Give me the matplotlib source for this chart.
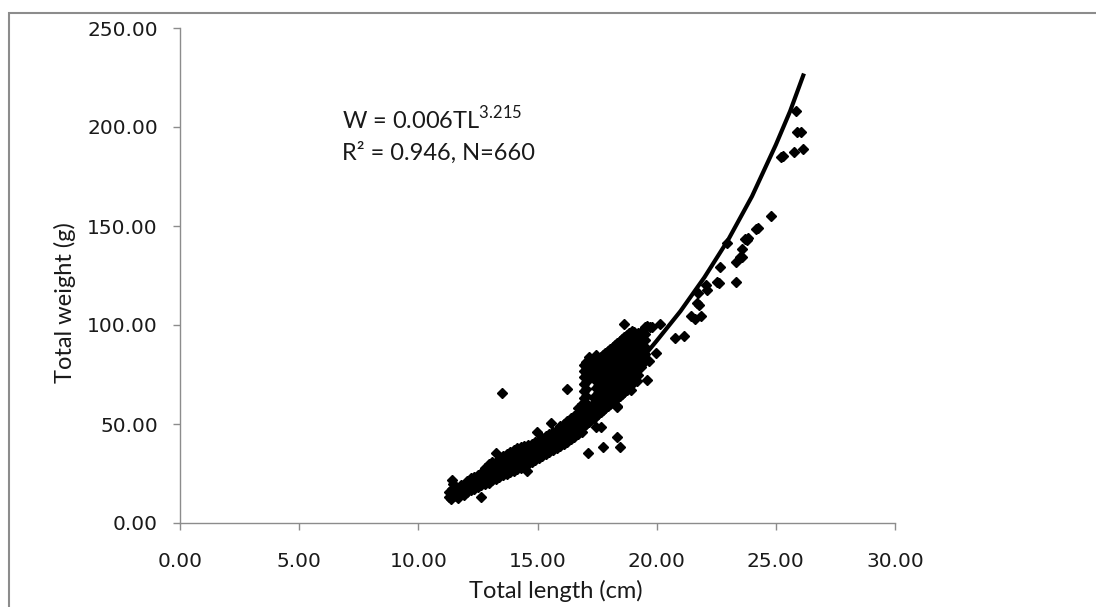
import matplotlib
matplotlib.use("Agg")
import matplotlib.pyplot as plt
from matplotlib.patches import Rectangle
from matplotlib.ticker import FormatStrFormatter, MultipleLocator

# length-weight data (TL in cm, W in g)
band_points = [
    (11.30, 13.0), (11.30, 15.5), (11.35, 12.0), (11.40, 14.5), (11.40, 17.0), (11.45, 19.5),
    (11.50, 13.5), (11.50, 16.0), (11.55, 18.5), (11.60, 14.8), (11.65, 12.8), (11.70, 17.2),
    (11.75, 15.5), (11.80, 19.0), (11.85, 16.5), (11.90, 14.2), (11.95, 18.0), (12.00, 20.0),
    (12.05, 15.5), (12.05, 18.0), (12.05, 21.0),
    (12.20, 16.5), (12.20, 19.5), (12.20, 22.5),
    (12.35, 17.0), (12.35, 20.0), (12.35, 23.0),
    (12.50, 18.0), (12.50, 21.0), (12.50, 24.0),
    (12.65, 19.0), (12.65, 22.0), (12.65, 25.5),
    (12.80, 19.5), (12.80, 23.0), (12.80, 26.0), (12.80, 28.0),
    (12.95, 20.0), (12.95, 23.5), (12.95, 27.0), (12.95, 30.0),
    (13.10, 21.5), (13.10, 24.5), (13.10, 28.0), (13.10, 31.0),
    (13.25, 22.0), (13.25, 25.5), (13.25, 29.0),
    (13.40, 23.0), (13.40, 26.5), (13.40, 30.0), (13.40, 32.5),
    (13.55, 24.0), (13.55, 27.5), (13.55, 31.0), (13.55, 34.0),
    (13.70, 25.0), (13.70, 28.5), (13.70, 32.0), (13.70, 35.0),
    (13.85, 26.0), (13.85, 29.5), (13.85, 33.0), (13.85, 36.0),
    (14.00, 26.5), (14.00, 30.0), (14.00, 33.5), (14.00, 37.0),
    (14.15, 27.5), (14.15, 31.0), (14.15, 34.5), (14.15, 38.0),
    (14.30, 28.0), (14.30, 32.0), (14.30, 35.5), (14.30, 38.5),
    (14.45, 29.0), (14.45, 32.5), (14.45, 36.0), (14.45, 39.0),
    (14.60, 30.0), (14.60, 33.5), (14.60, 36.5), (14.60, 39.5),
    (14.75, 31.0), (14.75, 34.0), (14.75, 37.5), (14.75, 40.0),
    (14.90, 32.0), (14.90, 35.0), (14.90, 38.0), (14.90, 41.0),
    (15.05, 33.0), (15.05, 36.0), (15.05, 39.0), (15.05, 42.0),
    (15.20, 34.0), (15.20, 37.0), (15.20, 40.0), (15.20, 43.0),
    (15.35, 35.0), (15.35, 38.0), (15.35, 41.0), (15.35, 44.0),
    (15.50, 36.0), (15.50, 39.0), (15.50, 42.0), (15.50, 45.0),
    (15.65, 37.0), (15.65, 40.0), (15.65, 43.0), (15.65, 46.0),
    (15.80, 38.0), (15.80, 41.0), (15.80, 44.0), (15.80, 47.0),
    (15.95, 39.0), (15.95, 42.0), (15.95, 45.5), (15.95, 49.0),
    (16.10, 40.0), (16.10, 43.5), (16.10, 47.0), (16.10, 50.0),
    (16.25, 41.0), (16.25, 44.5), (16.25, 48.0), (16.25, 51.5),
    (16.40, 42.5), (16.40, 46.0), (16.40, 49.5), (16.40, 53.0),
    (16.55, 43.5), (16.55, 47.0), (16.55, 50.5), (16.55, 54.0),
    (16.70, 45.0), (16.70, 48.5), (16.70, 52.0), (16.70, 55.5), (16.70, 58.0),
    (16.85, 46.0), (16.85, 50.0), (16.85, 53.5), (16.85, 57.0), (16.85, 60.0),
]

block_points = [
    (16.95, 49.0), (16.95, 52.5), (16.95, 56.0), (16.95, 59.5), (16.95, 63.0), (16.95, 66.5),
    (16.95, 70.0), (16.95, 73.5), (16.95, 77.0), (16.95, 80.0),
    (17.05, 50.0), (17.05, 53.5), (17.05, 57.0), (17.05, 60.5), (17.05, 64.0), (17.05, 67.5),
    (17.05, 71.0), (17.05, 74.5), (17.05, 78.0), (17.05, 81.5),
    (17.15, 51.0), (17.15, 54.5), (17.15, 58.0), (17.15, 74.0), (17.15, 77.5), (17.15, 81.0), (17.15, 84.0),
    (17.25, 52.0), (17.25, 55.5), (17.25, 59.0), (17.25, 75.0), (17.25, 78.5), (17.25, 82.0),
    (17.35, 53.0), (17.35, 56.5), (17.35, 60.0), (17.35, 63.0), (17.35, 74.5), (17.35, 78.0), (17.35, 81.5),
    (17.45, 54.0), (17.45, 57.5), (17.45, 61.0), (17.45, 64.5), (17.45, 68.0), (17.45, 71.5),
    (17.45, 75.0), (17.45, 78.5), (17.45, 82.0), (17.45, 85.0),
    (17.55, 55.0), (17.55, 58.5), (17.55, 62.0), (17.55, 65.5), (17.55, 69.0), (17.55, 72.5),
    (17.55, 76.0), (17.55, 79.5), (17.55, 83.0),
    (17.65, 56.0), (17.65, 59.5), (17.65, 63.0), (17.65, 66.5), (17.65, 70.0), (17.65, 73.5),
    (17.65, 77.0), (17.65, 80.5), (17.65, 84.0),
    (17.75, 57.0), (17.75, 60.5), (17.75, 64.0), (17.75, 67.5), (17.75, 71.0), (17.75, 74.5),
    (17.75, 78.0), (17.75, 81.5), (17.75, 85.0),
    (17.85, 58.0), (17.85, 61.5), (17.85, 65.0), (17.85, 68.5), (17.85, 72.0), (17.85, 75.5),
    (17.85, 79.0), (17.85, 82.5), (17.85, 86.0),
    (17.95, 59.0), (17.95, 62.5), (17.95, 66.0), (17.95, 69.5), (17.95, 73.0), (17.95, 76.5),
    (17.95, 80.0), (17.95, 83.5), (17.95, 87.0),
    (18.05, 60.0), (18.05, 63.5), (18.05, 67.0), (18.05, 70.5), (18.05, 74.0), (18.05, 77.5),
    (18.05, 81.0), (18.05, 84.5), (18.05, 88.0),
    (18.15, 61.0), (18.15, 64.5), (18.15, 68.0), (18.15, 71.5), (18.15, 75.0), (18.15, 78.5),
    (18.15, 82.0), (18.15, 85.5), (18.15, 89.0),
    (18.25, 62.0), (18.25, 65.5), (18.25, 69.0), (18.25, 72.5), (18.25, 76.0), (18.25, 79.5),
    (18.25, 83.0), (18.25, 86.5), (18.25, 90.0),
    (18.35, 59.0), (18.35, 63.0), (18.35, 66.5), (18.35, 70.0), (18.35, 73.5), (18.35, 77.0),
    (18.35, 80.5), (18.35, 84.0), (18.35, 87.5), (18.35, 91.0),
    (18.45, 64.0), (18.45, 67.5), (18.45, 71.0), (18.45, 74.5), (18.45, 78.0), (18.45, 81.5),
    (18.45, 85.0), (18.45, 88.5), (18.45, 92.0),
    (18.55, 65.0), (18.55, 68.5), (18.55, 72.0), (18.55, 75.5), (18.55, 79.0), (18.55, 82.5),
    (18.55, 86.0), (18.55, 89.5), (18.55, 93.0),
    (18.65, 66.0), (18.65, 69.5), (18.65, 73.0), (18.65, 76.5), (18.65, 80.0), (18.65, 83.5),
    (18.65, 87.0), (18.65, 90.5), (18.65, 94.0),
    (18.75, 67.0), (18.75, 70.5), (18.75, 74.0), (18.75, 77.5), (18.75, 81.0), (18.75, 84.5),
    (18.75, 88.0), (18.75, 91.5), (18.75, 95.0),
    (18.85, 68.0), (18.85, 71.5), (18.85, 75.0), (18.85, 78.5), (18.85, 82.0), (18.85, 85.5),
    (18.85, 89.0), (18.85, 92.5), (18.85, 96.0),
    (18.95, 70.0), (18.95, 73.5), (18.95, 77.0), (18.95, 80.5), (18.95, 84.0), (18.95, 87.5),
    (18.95, 91.0), (18.95, 94.5), (18.95, 97.0),
    (19.05, 72.0), (19.05, 75.5), (19.05, 79.0), (19.05, 82.5), (19.05, 86.0), (19.05, 89.5),
    (19.05, 93.0), (19.05, 96.0),
    (19.20, 75.0), (19.20, 78.5), (19.20, 82.0), (19.20, 85.5), (19.20, 89.0), (19.20, 92.5), (19.20, 96.0),
    (19.35, 79.0), (19.35, 82.5), (19.35, 86.0), (19.35, 89.5), (19.35, 93.0), (19.35, 96.5),
    (19.50, 82.0), (19.50, 85.5), (19.50, 89.0), (19.50, 92.5), (19.50, 95.5), (19.50, 99.0),
]

outlier_points = [
    (11.40, 21.7), (12.61, 13.3), (13.24, 35.5), (13.49, 65.5), (14.54, 26.4), (14.99, 46.1),
    (15.55, 50.3), (16.25, 67.5), (17.12, 35.5), (17.44, 48.6), (17.65, 48.6), (17.75, 38.5),
    (18.34, 43.3), (18.46, 38.5), (18.34, 58.7), (18.63, 100.5), (18.91, 67.2), (19.03, 96.6),
    (19.19, 71.9), (19.58, 72.2), (19.61, 99.5), (19.68, 82.0), (19.82, 98.8), (19.96, 85.7),
]

tail_points = [
    (19.54, 99.1), (19.72, 99.1), (20.14, 100.5), (20.76, 93.3), (21.15, 94.4), (21.43, 104.5),
    (21.60, 103.2), (21.85, 104.5), (21.71, 111.0), (21.78, 110.1), (21.74, 116.0), (22.07, 120.2),
    (22.10, 117.7), (22.52, 121.9), (22.62, 121.1), (23.32, 121.6), (22.65, 129.1), (22.97, 141.6),
    (23.32, 131.7), (23.50, 134.5), (23.60, 134.2), (23.56, 138.4), (23.70, 143.4), (23.78, 142.9),
    (23.85, 144.1), (24.16, 148.3), (24.26, 149.2), (24.79, 155.2), (25.21, 184.7), (25.29, 185.4),
    (25.77, 187.5), (26.16, 189.1), (25.88, 197.6), (26.06, 197.3), (25.84, 208.1),
]

# power trend line
curve_tl = [11.3, 12.0, 13.0, 14.0, 15.0, 16.0, 17.0, 18.0, 19.0, 20.0, 21.0, 22.0, 23.0, 24.0, 25.0, 25.6, 26.18]
curve_w = [14.5, 17.5, 22.9, 29.0, 36.3, 44.6, 54.0, 65.0, 77.5, 92.0, 107.0, 124.0, 143.0, 165.0, 191.0, 208.0, 227.0]

all_points = band_points + block_points + outlier_points + tail_points
tl = [p[0] for p in all_points]
w = [p[1] for p in all_points]

fig = plt.figure(figsize=(10.96, 6.07), dpi=100)
ax = fig.add_axes([180 / 1096, 84 / 607, 715 / 1096, 495 / 607])

ax.plot(tl, w, linestyle="none", marker="D", markersize=5.6, color="black", zorder=2)
ax.plot(curve_tl, curve_w, color="black", linewidth=3.0, zorder=3, solid_capstyle="butt")

ax.set_xlim(0, 30)
ax.set_ylim(0, 250)
ax.xaxis.set_major_locator(MultipleLocator(5))
ax.yaxis.set_major_locator(MultipleLocator(50))
ax.xaxis.set_major_formatter(FormatStrFormatter("%.2f"))
ax.yaxis.set_major_formatter(FormatStrFormatter("%.2f"))

grey = "#8c8c8c"
for side in ["top", "right"]:
    ax.spines[side].set_visible(False)
for side in ["left", "bottom"]:
    ax.spines[side].set_color(grey)
    ax.spines[side].set_linewidth(1.0)
ax.tick_params(axis="both", direction="out", length=5, width=1.0, color=grey,
               labelsize=14.5, labelcolor="#1a1a1a")
ax.tick_params(axis="x", pad=16)
ax.tick_params(axis="y", pad=11)
for lab in ax.get_xticklabels() + ax.get_yticklabels():
    lab.set_family("DejaVu Sans")

plt.rcParams["mathtext.fontset"] = "custom"
plt.rcParams["mathtext.rm"] = "Lato"

fig.text(556 / 1096, 1 - 591 / 607, "Total length (cm)", family="Lato", fontsize=17,
         color="#1a1a1a", ha="center", va="center")
fig.text(65 / 1096, 1 - 303 / 607, "Total weight (g)", family="Lato", fontsize=17,
         color="#1a1a1a", ha="center", va="center", rotation=90)

fig.text(342 / 1096, 1 - 129 / 607, r"W = 0.006TL$^{\mathrm{3.215}}$", family="Lato", fontsize=17,
         color="#1a1a1a", ha="left", va="baseline")
fig.text(342 / 1096, 1 - 160 / 607, "R² = 0.946, N=660", family="Lato", fontsize=17,
         color="#1a1a1a", ha="left", va="baseline")

# outer chart frame (only left/top edge are inside the picture)
fig.patches.append(Rectangle((9 / 1096, -0.05), 1.2, 1.05 - 13 / 607, fill=False,
                             edgecolor=grey, linewidth=1.5, transform=fig.transFigure))

fig.savefig("out.png", dpi=100)
